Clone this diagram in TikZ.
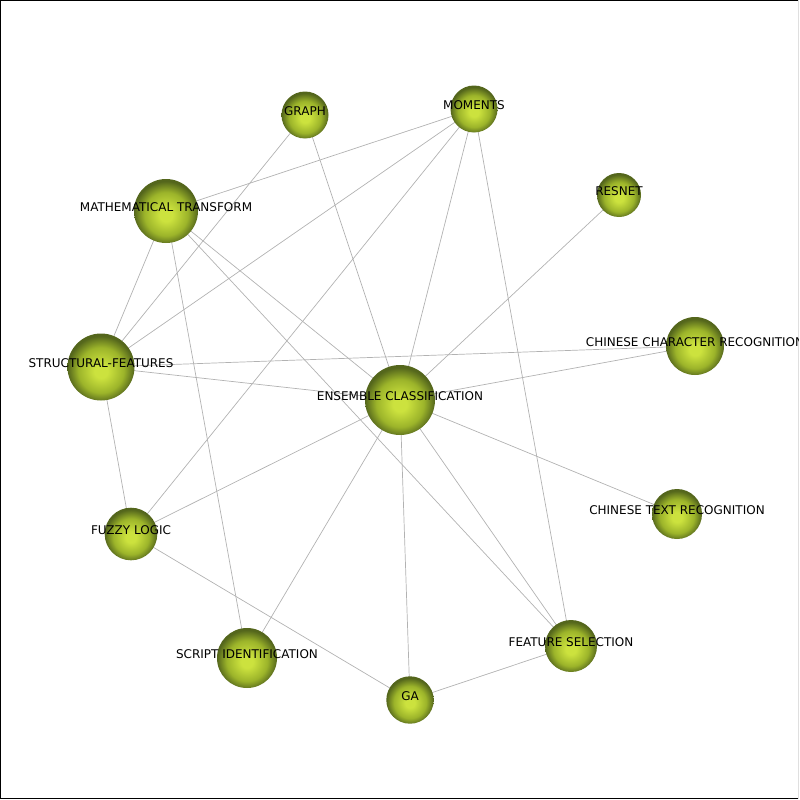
\documentclass[tikz,border=0pt]{standalone}
\usepackage{fontspec}
\setmainfont{DejaVu Sans}
\usepackage{tikz}

\definecolor{ballin}{RGB}{204,226,62}
\definecolor{ballmid}{RGB}{156,180,42}
\definecolor{ballout}{RGB}{84,102,28}
\definecolor{edgegray}{RGB}{178,178,178}

\pgfdeclareradialshading{ballshade}{\pgfpoint{0bp}{-3.5bp}}{%
  color(0bp)=(ballin); color(5bp)=(ballin); color(17bp)=(ballmid);
  color(25bp)=(ballout); color(50bp)=(ballout)}

\begin{document}
\begin{tikzpicture}[x=1pt,y=-1pt,
	ball/.style={circle, draw=none, shading=ballshade, inner sep=0pt},
	tag/.style={anchor=base, inner sep=0pt, font=\fontsize{12}{14}\selectfont},
	link/.style={draw=edgegray, line width=0.7pt}]

	% ---- frame

	\useasboundingbox (0,0) rectangle (800,800);
	\clip (0,0) rectangle (798,799);

	% ---- coordinates

	\coordinate (EC) at (400,400);
	\coordinate (GR) at (305,115);
	\coordinate (MO) at (474,109);
	\coordinate (RN) at (619,195);
	\coordinate (MT) at (166,211);
	\coordinate (SF) at (101,367);
	\coordinate (CC) at (695,346);
	\coordinate (CT) at (677,514);
	\coordinate (FL) at (131,534);
	\coordinate (SI) at (247,658);
	\coordinate (GA) at (410,700);
	\coordinate (FS) at (571,646);

	% ---- links

	\foreach \b in {GR,MO,RN,MT,SF,CC,CT,FL,SI,GA,FS} { \draw[link] (EC) -- (\b); }
	\foreach \b in {MT,SF,FL,FS} { \draw[link] (MO) -- (\b); }
	\foreach \b in {SF,SI,FS} { \draw[link] (MT) -- (\b); }
	\draw[link] (GR) -- (SF);
	\draw[link] (SF) -- (CC);
	\draw[link] (SF) -- (FL);
	\draw[link] (FL) -- (GA);
	\draw[link] (GA) -- (FS);

	% ---- balls

	\foreach \n/\r in {EC/35,GR/23.5,MO/23.5,RN/22,MT/32,SF/33.5,CC/29,CT/25,FL/26.3,SI/30,GA/23.7,FS/26} {
		\node[ball, minimum size=2*\r*1pt] (\n-b) at (\n) {};
	}

	% ---- labels

	\node[tag] (EC-t) at (EC) {ENSEMBLE CLASSIFICATION};
	\node[tag] (GR-t) at (GR) {GRAPH};
	\node[tag] (MO-t) at (MO) {MOMENTS};
	\node[tag] (RN-t) at (RN) {RESNET};
	\node[tag] (MT-t) at (MT) {MATHEMATICAL TRANSFORM};
	\node[tag] (SF-t) at (SF) {STRUCTURAL-FEATURES};
	\node[tag] (CC-t) at (CC) {CHINESE CHARACTER RECOGNITION};
	\node[tag] (CT-t) at (CT) {CHINESE TEXT RECOGNITION};
	\node[tag] (FL-t) at (FL) {FUZZY LOGIC};
	\node[tag] (SI-t) at (SI) {SCRIPT IDENTIFICATION};
	\node[tag] (GA-t) at (GA) {GA};
	\node[tag] (FS-t) at (FS) {FEATURE SELECTION};

	% ---- border

	\draw[line width=1pt] (0.5,0.5) rectangle (798.5,798.5);

\end{tikzpicture}
\end{document}
